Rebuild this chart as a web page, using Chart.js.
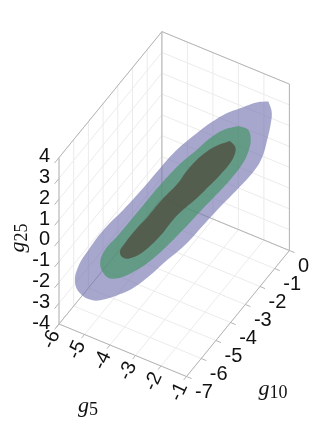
<!DOCTYPE html>
<html>
<head>
<meta charset="utf-8">
<style>html,body{margin:0;padding:0;background:#fff}canvas{display:block}</style>
<script src="https://cdn.jsdelivr.net/npm/chart.js@4"></script>
</head>
<body>
<canvas id="c" width="336" height="423"></canvas>
<script>
const g5Ticks = [-6, -5, -4, -3, -2, -1];
const g10Ticks = [-7, -6, -5, -4, -3, -2, -1, 0];
const g25Ticks = [-4, -3, -2, -1, 0, 1, 2, 3, 4];

// Contour outlines: g10 and g25 along the closed boundary of each credible region
const outerG10 = [-0.36,-0.25,-0.28,-0.40,-0.58,-0.86,-1.36,-1.97,-2.54,-3.14,-3.81,-4.36,-4.92,-5.36,-5.81,-6.25,-6.64,-6.81,-6.70,-6.36,-5.81,-5.20,-4.64,-3.97,-3.42,-2.75,-2.31,-1.86,-1.31,-0.75];
const outerG25 = [3.16,2.61,2.07,1.33,0.56,0.07,-0.44,-1.00,-1.57,-2.17,-2.61,-3.01,-3.29,-3.32,-3.28,-3.07,-2.52,-1.87,-1.21,-0.60,0.13,0.67,1.24,1.99,2.55,2.98,3.21,3.36,3.37,3.34];
const midG10 = [-1.36,-1.03,-0.95,-1.03,-1.25,-1.64,-1.92,-2.64,-3.31,-3.81,-4.31,-4.75,-5.20,-5.64,-5.86,-5.97,-5.81,-5.36,-4.64,-3.97,-3.31,-2.75,-2.31,-1.86];
const midG25 = [2.55,2.17,1.64,1.13,0.61,0.11,-0.18,-0.85,-1.50,-1.94,-2.29,-2.47,-2.54,-2.37,-1.99,-1.44,-0.91,-0.44,0.40,1.18,1.82,2.18,2.49,2.64];
const innerG10 = [-1.64,-1.47,-1.47,-1.64,-1.97,-2.36,-2.74,-3.21,-3.54,-3.97,-4.53,-4.97,-5.20,-5.31,-5.14,-4.70,-4.42,-3.92,-3.37,-3.14,-2.81,-2.42,-2.03];
const innerG25 = [1.99,1.62,1.30,0.91,0.54,0.19,-0.14,-0.45,-0.74,-1.27,-1.71,-1.78,-1.63,-1.27,-0.96,-0.42,-0.15,0.43,0.94,1.28,1.65,1.91,2.01];

// 3D view: data coordinates to the flat coordinates of the chart's two scales
const project = (g5, g10, g25) => ({
  x: 59 + 25.5 * (g5 + 6) + 14.7 * (g10 + 7),
  y: 324 + 10.5 * (g5 + 6) - 18 * (g10 + 7) - 20.8 * (g25 + 4)
});
// The contours lie on the tilted plane that follows the ridge of the distribution
const planeG5 = g10 => -3.5 + 0.6 * (g10 + 3.5);

const lo5 = -6, hi5 = -1, lo10 = -7, hi10 = 0, lo25 = -4, hi25 = 4;
const GRID = '#ebebeb', BOX = '#b4b4b4';
const datasets = [];
const seg = (a, b, color, order) => datasets.push({
  data: [project(...a), project(...b)],
  borderColor: color, borderWidth: 1, pointRadius: 0, showLine: true, fill: false, order
});

// Grid on floor, back wall and left wall
g5Ticks.forEach(v => { seg([v, lo10, lo25], [v, hi10, lo25], GRID, 6); seg([v, hi10, lo25], [v, hi10, hi25], GRID, 6); });
g10Ticks.forEach(v => { seg([lo5, v, lo25], [hi5, v, lo25], GRID, 6); seg([lo5, v, lo25], [lo5, v, hi25], GRID, 6); });
g25Ticks.forEach(v => { seg([lo5, lo10, v], [lo5, hi10, v], GRID, 6); seg([lo5, hi10, v], [hi5, hi10, v], GRID, 6); });

// Box edges
[
  [[lo5, lo10, lo25], [lo5, lo10, hi25]],
  [[lo5, hi10, lo25], [lo5, hi10, hi25]],
  [[hi5, hi10, lo25], [hi5, hi10, hi25]],
  [[lo5, lo10, hi25], [lo5, hi10, hi25]],
  [[lo5, hi10, hi25], [hi5, hi10, hi25]],
  [[lo5, lo10, lo25], [hi5, lo10, lo25]],
  [[hi5, lo10, lo25], [hi5, hi10, lo25]],
  [[lo5, lo10, lo25], [lo5, hi10, lo25]],
  [[lo5, hi10, lo25], [hi5, hi10, lo25]]
].forEach(e => seg(e[0], e[1], BOX, 5));

// Tick marks
g25Ticks.forEach(v => seg([lo5, lo10, v], [lo5, lo10 - 0.3, v], BOX, 5));
g5Ticks.forEach(v => seg([v, lo10, lo25], [v, lo10 - 0.2, lo25], BOX, 5));
g10Ticks.forEach(v => seg([hi5, v, lo25], [hi5 + 0.2, v, lo25], BOX, 5));

const region = (xs, zs, color, order) => {
  const pts = xs.map((g10, i) => project(planeG5(g10), g10, zs[i]));
  pts.push(pts[0]);
  datasets.push({
    data: pts, showLine: true, fill: 'shape', backgroundColor: color,
    borderWidth: 0, borderColor: 'transparent', pointRadius: 0, tension: 0.4, order
  });
};
region(outerG10, outerG25, 'rgba(120,120,180,0.65)', 3);
region(midG10, midG25, 'rgba(71,150,104,0.7)', 2);
region(innerG10, innerG25, 'rgba(79,69,56,0.7)', 1);

const SANS = '"Liberation Sans", Arial, sans-serif';
const SERIF = '"Liberation Serif", "Times New Roman", serif';

const labelsPlugin = {
  id: 'axisLabels',
  afterDraw(chart) {
    const { ctx, scales: { x, y } } = chart;
    const at = (g5, g10, g25) => {
      const p = project(g5, g10, g25);
      return [x.getPixelForValue(p.x), y.getPixelForValue(p.y)];
    };
    ctx.save();
    ctx.fillStyle = '#111';
    ctx.font = '20px ' + SANS;
    ctx.textBaseline = 'middle';

    ctx.textAlign = 'right';
    g25Ticks.forEach(v => {
      const [px, py] = at(lo5, lo10, v);
      ctx.fillText(String(v), px - 9, py - 1);
    });

    ctx.textAlign = 'left';
    g10Ticks.forEach(v => {
      const [px, py] = at(hi5, v, lo25);
      ctx.fillText(String(v), px + 8.6, py + 15.5);
    });

    ctx.textAlign = 'center';
    g5Ticks.forEach(v => {
      const [px, py] = at(v, lo10, lo25);
      ctx.save();
      ctx.translate(px - 7.5, py + 15.5);
      ctx.rotate(-65 * Math.PI / 180);
      ctx.fillText(String(v), 0, 0);
      ctx.restore();
    });

    const title = (cx, cy, sub, rot) => {
      ctx.save();
      ctx.translate(cx, cy);
      ctx.rotate(rot);
      ctx.textAlign = 'left';
      ctx.textBaseline = 'alphabetic';
      ctx.font = 'italic 22px ' + SERIF;
      const w = ctx.measureText('g').width;
      ctx.font = '18px ' + SERIF;
      const sw = ctx.measureText(sub).width;
      const x0 = -(w + sw) / 2;
      ctx.font = 'italic 22px ' + SERIF;
      ctx.fillText('g', x0, 0);
      ctx.font = '18px ' + SERIF;
      ctx.fillText(sub, x0 + w, 3);
      ctx.restore();
    };
    title(88, 412, '5', 0);
    title(273, 395, '10', 0);
    title(24, 238, '25', -Math.PI / 2);
    ctx.restore();
  }
};

new Chart(document.getElementById('c'), {
  type: 'scatter',
  data: { datasets },
  options: {
    responsive: false,
    animation: false,
    layout: { padding: 0 },
    events: [],
    scales: {
      x: { type: 'linear', min: 0, max: 336, display: false },
      y: { type: 'linear', min: 0, max: 423, reverse: true, display: false }
    },
    plugins: { legend: { display: false }, tooltip: { enabled: false }, title: { display: false } }
  },
  plugins: [labelsPlugin]
});
</script>
</body>
</html>
